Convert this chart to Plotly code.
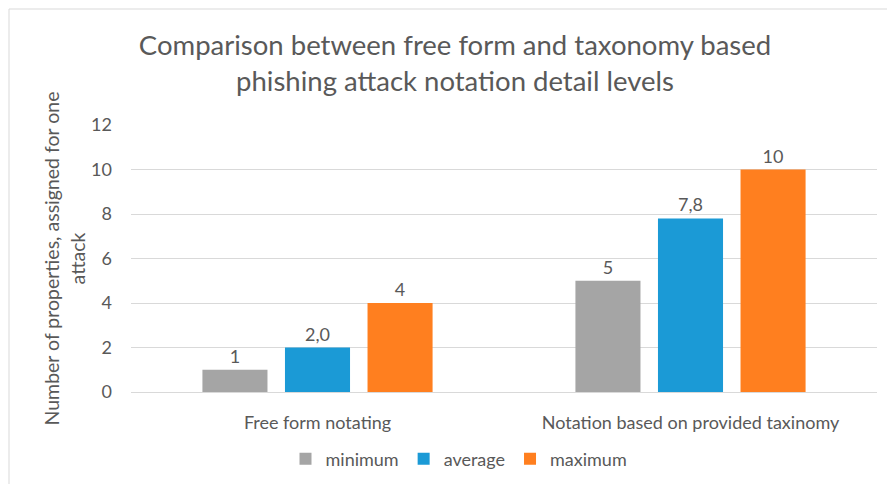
import plotly.graph_objects as go

categories = ["Free form notating", "Notation based on provided taxinomy"]
series_names = ["minimum", "average", "maximum"]
minimum_vals = [1, 5]
average_vals = [2.0, 7.8]
maximum_vals = [4, 10]
minimum_text = ["1", "5"]
average_text = ["2,0", "7,8"]
maximum_text = ["4", "10"]
colors = ["#A5A5A5", "#1B9AD6", "#FF7F1F"]
y_ticks = [0, 2, 4, 6, 8, 10, 12]

W, H = 887, 484
L, R, T, B = 131, 10, 125, 92
FONT = "Lato"
TXT = "#595959"

fig = go.Figure()
for name, vals, txt, col in zip(series_names,
                                [minimum_vals, average_vals, maximum_vals],
                                [minimum_text, average_text, maximum_text],
                                colors):
    fig.add_trace(go.Bar(
        x=categories, y=vals, name=name, marker=dict(color=col, line=dict(width=0)),
        text=txt, textposition="outside", cliponaxis=False,
        textfont=dict(family=FONT, size=18, color=TXT),
    ))

pw = W - L - R
ph = H - T - B
def px_x(p):
    return (p - L) / pw
def px_y(p):
    return (H - B - p) / ph

fig.update_layout(
    width=W, height=H,
    margin=dict(l=L, r=R, t=T, b=B, autoexpand=False),
    paper_bgcolor="white", plot_bgcolor="white",
    barmode="group", bargap=0.336, bargroupgap=0.212,
    font=dict(family=FONT, color=TXT, size=17),
    title=dict(
        text="Comparison between free form and taxonomy based<br>phishing attack notation detail levels",
        x=455 / W, xanchor="center", xref="container",
        y=1 - 55 / H, yanchor="middle", yref="container",
        font=dict(family=FONT, size=27.5, color=TXT),
    ),
    xaxis=dict(showline=True, linecolor="#D9D9D9", linewidth=1, ticks="",
               ticklabelstandoff=14,
               tickfont=dict(family=FONT, size=18, color=TXT), showgrid=False),
    yaxis=dict(range=[0, 12], tickvals=y_ticks, showgrid=True, gridcolor="#D9D9D9",
               gridwidth=1, zeroline=False, ticks="", ticklabelstandoff=18,
               tickfont=dict(family=FONT, size=18, color=TXT),
               title=dict(text="Number of properties, assigned for one<br>attack",
                          font=dict(family=FONT, size=19.5, color=TXT), standoff=0)),
    legend=dict(orientation="h", xref="container", x=459 / W, xanchor="center",
                yref="container", y=1 - 459 / H, yanchor="middle",
                font=dict(family=FONT, size=18, color=TXT), itemwidth=30,
                traceorder="normal"),
    shapes=[
        dict(type="line", xref="paper", yref="paper", x0=px_x(9), x1=px_x(9),
             y0=px_y(9), y1=px_y(H), line=dict(color="#D9D9D9", width=1)),
        dict(type="line", xref="paper", yref="paper", x0=px_x(9), x1=px_x(W),
             y0=px_y(9), y1=px_y(9), line=dict(color="#D9D9D9", width=1)),
    ],
)

fig.write_html("out.html")
